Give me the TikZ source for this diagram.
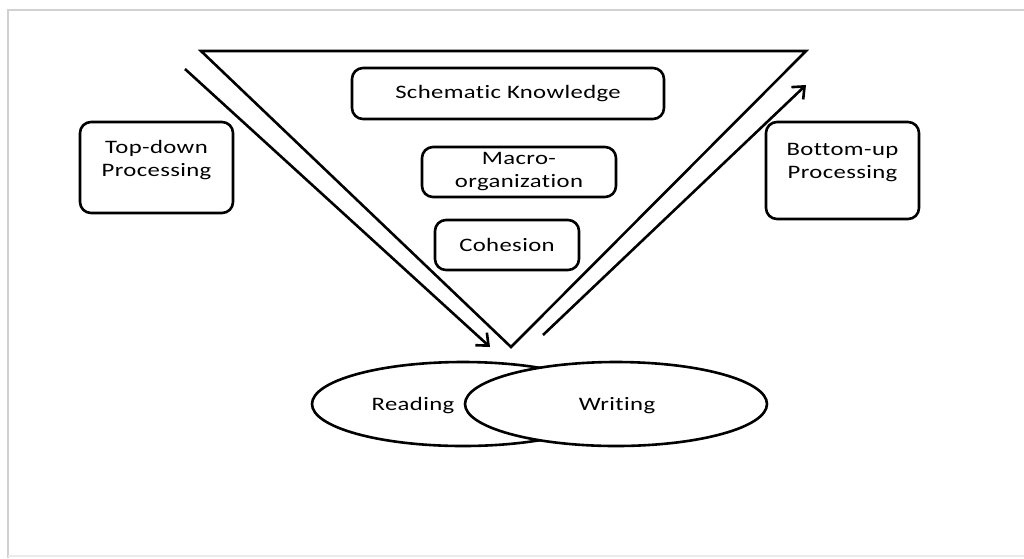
\documentclass[tikz,border=0pt]{standalone}
\usepackage{fontspec}
\setmainfont{Carlito}[FakeStretch=1.3,LetterSpace=2,Ligatures=NoCommon]
\usetikzlibrary{arrows.meta,shapes.geometric}
\begin{document}
\begin{tikzpicture}[x=1pt,y=-1pt,
  line/.style={line width=2.6pt,black},
  box/.style={draw,line width=2.6pt,rounded corners=11pt,minimum width=#1,align=center,font=\fontsize{19}{23}\selectfont,inner sep=0pt},
  oval/.style={draw,line width=2.6pt,ellipse,minimum width=302pt,minimum height=84pt,inner sep=0pt,font=\fontsize{19}{23}\selectfont},
  arr/.style={line width=2.6pt,-{Straight Barb[length=10pt,width=17pt,line width=2.6pt]}}]
\useasboundingbox (0,0) rectangle (1024,558);
% frame
\draw[line width=2pt,black!18] (8,558) -- (8,10) -- (1024,10);
\draw[line width=1.5pt,black!8] (8,556) -- (1024,556);
% triangle
\coordinate (tl) at (201,51);
\coordinate (tr) at (806,51);
\coordinate (tb) at (511,347);
\draw[line,line join=miter] (tl) -- (tr) -- (tb) -- cycle;
% arrows
\coordinate (la) at (185,69);
\coordinate (lb) at (490,347);
\coordinate (ra) at (543,335);
\coordinate (rb) at (806,85);
\draw[arr] (la) -- (lb);
\draw[arr] (ra) -- (rb);
% boxes
\node[box=153pt,minimum height=91pt,text depth=18pt] (td) at (156.5,167.5) {Top-down\\Processing};
\node[box=153pt,minimum height=97pt,text depth=19pt] (bu) at (842.5,170.5) {Bottom-up\\Processing};
\node[box=312pt,minimum height=51pt] (sk) at (508,93.5) {Schematic Knowledge};
\node[box=194pt,minimum height=50pt] (mo) at (519,172) {Macro-\\organization};
\node[box=144pt,minimum height=50pt] (co) at (507,245) {Cohesion};
% ellipses
\node[oval] (rd) at (463,404) {};
\node[oval,fill=white] (wr) at (616,404) {};
\node[font=\fontsize{19}{23}\selectfont] (rdt) at (413,406) {Reading};
\node[font=\fontsize{19}{23}\selectfont] (wrt) at (617,406) {Writing};
\end{tikzpicture}
\end{document}
